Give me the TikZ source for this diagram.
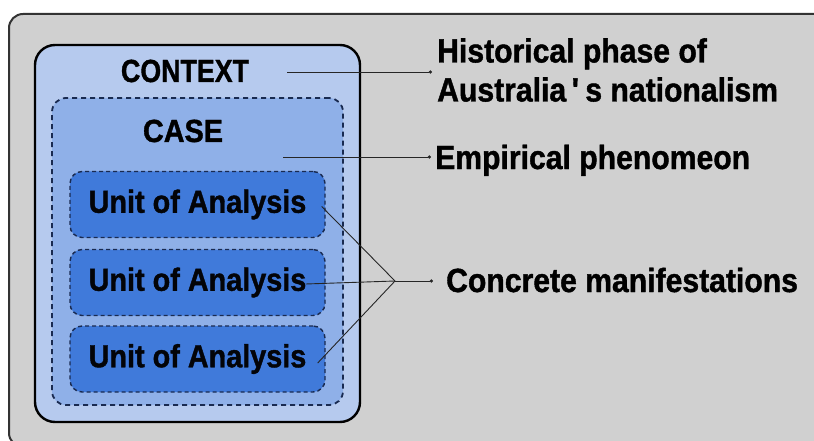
\documentclass[tikz,border=0pt]{standalone}
\usepackage{fontspec}
\setmainfont{Liberation Sans}[FakeStretch=0.9, BoldFeatures={FakeBold=1.2}]
\usetikzlibrary{arrows.meta}
\definecolor{bggray}{RGB}{208,208,208}
\definecolor{ctxblue}{RGB}{182,202,238}
\definecolor{caseblue}{RGB}{143,176,232}
\definecolor{unitblue}{RGB}{64,122,218}
\definecolor{navy}{RGB}{25,42,80}
\tikzset{
  lbl/.style={font=\bfseries\fontsize{32}{39}\selectfont, inner sep=0pt, text=black},
  rlbl/.style={font=\bfseries\fontsize{33.5}{39}\selectfont, inner sep=0pt, text=black},
  unitbox/.style={draw=navy, line width=1.4pt, dash pattern=on 4pt off 3pt, fill=unitblue,
    rounded corners=12pt, minimum width=255pt, minimum height=66pt, inner sep=0pt,
    font=\bfseries\fontsize{32}{39}\selectfont, text=black!90!navy},
  conn/.style={line width=0.9pt, draw=black!85, -{Circle[length=3.2pt]}},
  leg/.style={line width=0.9pt, draw=black!85}
}
\begin{document}
\begin{tikzpicture}[x=1pt,y=-1pt]
\useasboundingbox (0,0) rectangle (814,441);
\begin{scope}
\clip (0,0) rectangle (814,441);
\draw[line width=2pt, draw=black!80, fill=bggray, rounded corners=14pt] (9,14) rectangle (830,447);
\end{scope}
% context box
\node[draw=black, line width=2.4pt, fill=ctxblue, rounded corners=20pt, minimum width=325pt, minimum height=377pt, inner sep=0pt] (ctx) at (197.5,233.5) {};
% case box
\node[draw=navy, line width=1.8pt, dash pattern=on 5pt off 4pt, fill=caseblue, rounded corners=14pt, minimum width=291pt, minimum height=307pt, inner sep=0pt] (case) at (197.5,251.5) {};
\node[lbl, anchor=base, xscale=0.93] (ctxt) at (185,82) {CONTEXT};
\node[lbl, anchor=base] (caset) at (183,142) {CASE};
\node[unitbox] (u1) at (197.5,204.5) {Unit of Analysis};
\node[unitbox] (u2) at (197.5,282.5) {Unit of Analysis};
\node[unitbox] (u3) at (197.5,359) {Unit of Analysis};
% right labels
\node[rlbl, anchor=west, align=left] (hist) at (437,70) {Historical phase of\\Australia\,\textquotesingle\,s nationalism};
\node[rlbl, anchor=base west] (emp) at (435,169) {Empirical phenomeon};
\node[rlbl, anchor=base west] (conc) at (446,292) {Concrete manifestations};
% connectors
\coordinate (cs) at (287,72);
\coordinate (es) at (283,157);
\coordinate (j) at (395,281);
\draw[conn] (cs) -- (432,72);
\draw[conn] (es) -- (431,157);
\draw[leg] ([xshift=-4pt,yshift=-2pt]u1.east) -- (j);
\draw[leg] ([xshift=-20pt,yshift=-1.5pt]u2.east) -- (j);
\draw[leg] ([xshift=-8pt,yshift=-4pt]u3.east) -- (j);
\draw[conn] (j) -- ([xshift=-13pt]conc.west |- j);
\end{tikzpicture}
\end{document}
